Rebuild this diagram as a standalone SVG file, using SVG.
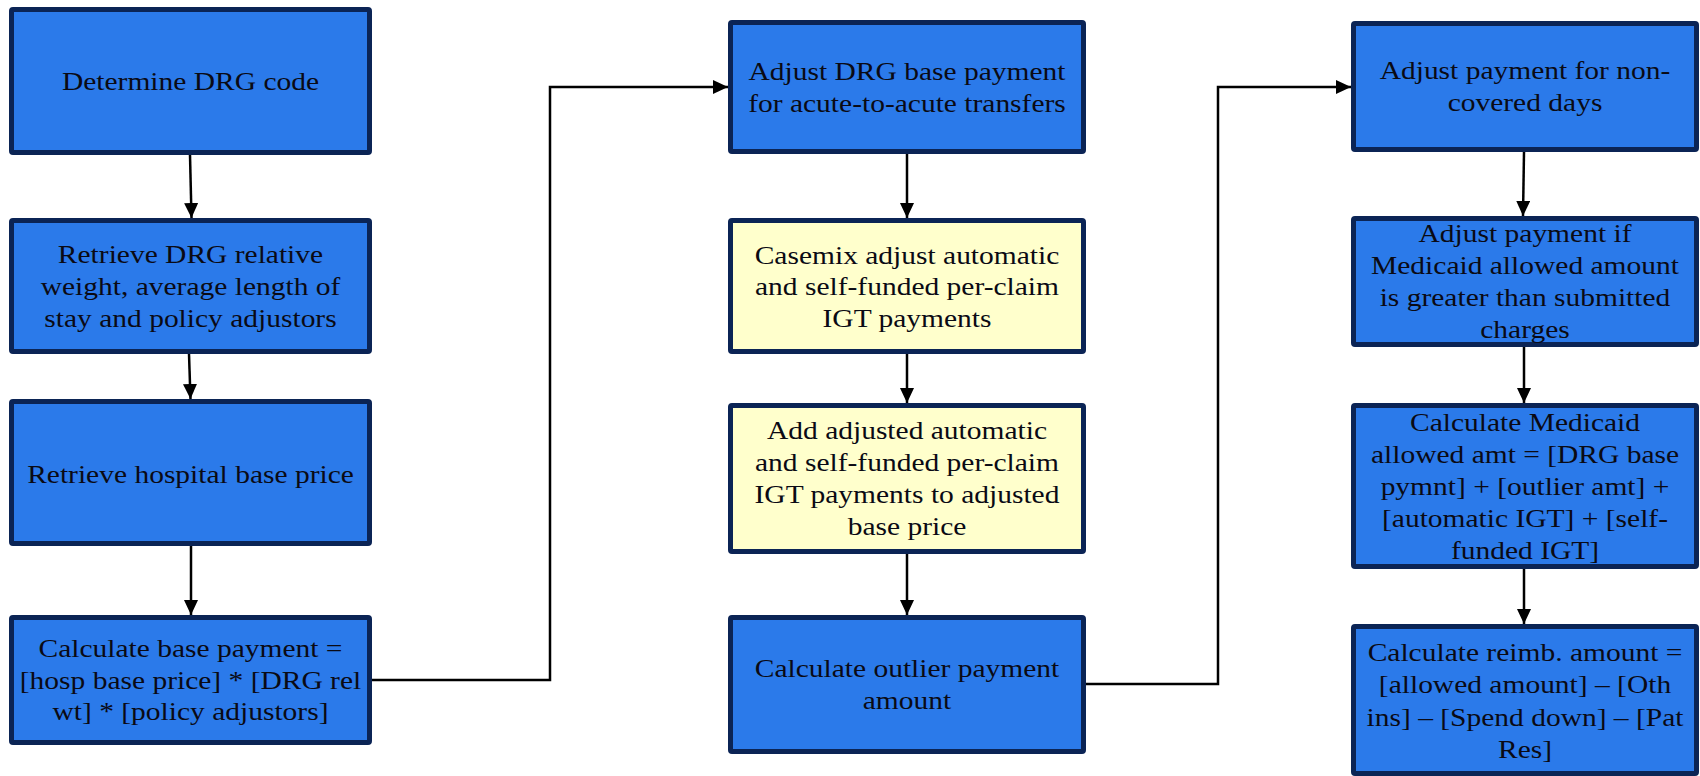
<svg xmlns="http://www.w3.org/2000/svg" width="1700" height="776" viewBox="0 0 1700 776">
<style>
.box{stroke:#0b2455;stroke-width:5;}
.blue{fill:#2b7aea;}
.yel{fill:#ffffcc;}
.t{font-family:"Liberation Serif","Times New Roman",serif;font-size:25px;fill:#0a0a14;text-anchor:middle;}
.c{fill:none;stroke:#000;stroke-width:2.5;}
</style>
<defs>
<marker id="ah" markerUnits="userSpaceOnUse" markerWidth="15" markerHeight="15" refX="15" refY="7" orient="auto">
<path d="M0,0 L15,7 L0,14 z" fill="#000"/>
</marker>
</defs>
<rect width="1700" height="776" fill="#fff"/>
<g id="connectors">
<path class="c" d="M190 155 L191.5 218" marker-end="url(#ah)"/>
<path class="c" d="M189 354 L190.5 399" marker-end="url(#ah)"/>
<path class="c" d="M191 546 L191 615" marker-end="url(#ah)"/>
<path class="c" d="M372 680 H550 V87 H728" marker-end="url(#ah)"/>
<path class="c" d="M907 154 V218" marker-end="url(#ah)"/>
<path class="c" d="M907 354 V403" marker-end="url(#ah)"/>
<path class="c" d="M907 554 V615" marker-end="url(#ah)"/>
<path class="c" d="M1086 684 H1218 V87 H1351" marker-end="url(#ah)"/>
<path class="c" d="M1524 152 L1523 216" marker-end="url(#ah)"/>
<path class="c" d="M1524 347 V403" marker-end="url(#ah)"/>
<path class="c" d="M1524 569 V624" marker-end="url(#ah)"/>
</g>
<g id="n1">
<rect class="box blue" x="11.5" y="9.5" width="358" height="143" rx="1.5"/>
<text class="t" transform="translate(190.5 0) scale(1.18 1)"><tspan x="0" y="90">Determine DRG code</tspan></text>
</g>
<g id="n2">
<rect class="box blue" x="11.5" y="220.5" width="358" height="131" rx="1.5"/>
<text class="t" transform="translate(190.5 0) scale(1.18 1)"><tspan x="0" y="263">Retrieve DRG relative</tspan><tspan x="0" y="295">weight, average length of</tspan><tspan x="0" y="327">stay and policy adjustors</tspan></text>
</g>
<g id="n3">
<rect class="box blue" x="11.5" y="401.5" width="358" height="142" rx="1.5"/>
<text class="t" transform="translate(190.5 0) scale(1.18 1)"><tspan x="0" y="483">Retrieve hospital base price</tspan></text>
</g>
<g id="n4">
<rect class="box blue" x="11.5" y="617.5" width="358" height="125" rx="1.5"/>
<text class="t" transform="translate(190.5 0) scale(1.18 1)"><tspan x="0" y="657">Calculate base payment =</tspan><tspan x="0" y="689">[hosp base price] * [DRG rel</tspan><tspan x="0" y="720">wt] * [policy adjustors]</tspan></text>
</g>
<g id="nA">
<rect class="box blue" x="730.5" y="22.5" width="353" height="129" rx="1.5"/>
<text class="t" transform="translate(907 0) scale(1.18 1)"><tspan x="0" y="80">Adjust DRG base payment</tspan><tspan x="0" y="112">for acute-to-acute transfers</tspan></text>
</g>
<g id="nB">
<rect class="box yel" x="730.5" y="220.5" width="353" height="131" rx="1.5"/>
<text class="t" transform="translate(907 0) scale(1.18 1)"><tspan x="0" y="264">Casemix adjust automatic</tspan><tspan x="0" y="295">and self-funded per-claim</tspan><tspan x="0" y="327">IGT payments</tspan></text>
</g>
<g id="nC">
<rect class="box yel" x="730.5" y="405.5" width="353" height="146" rx="1.5"/>
<text class="t" transform="translate(907 0) scale(1.18 1)"><tspan x="0" y="439">Add adjusted automatic</tspan><tspan x="0" y="471">and self-funded per-claim</tspan><tspan x="0" y="503">IGT payments to adjusted</tspan><tspan x="0" y="535">base price</tspan></text>
</g>
<g id="nD">
<rect class="box blue" x="730.5" y="617.5" width="353" height="134" rx="1.5"/>
<text class="t" transform="translate(907 0) scale(1.18 1)"><tspan x="0" y="677">Calculate outlier payment</tspan><tspan x="0" y="709">amount</tspan></text>
</g>
<g id="nE">
<rect class="box blue" x="1353.5" y="23.5" width="343" height="126" rx="1.5"/>
<text class="t" transform="translate(1525 0) scale(1.18 1)"><tspan x="0" y="79">Adjust payment for non-</tspan><tspan x="0" y="111">covered days</tspan></text>
</g>
<g id="nF">
<rect class="box blue" x="1353.5" y="218.5" width="343" height="126" rx="1.5"/>
<text class="t" transform="translate(1525 0) scale(1.18 1)"><tspan x="0" y="242">Adjust payment if</tspan><tspan x="0" y="274">Medicaid allowed amount</tspan><tspan x="0" y="306">is greater than submitted</tspan><tspan x="0" y="338">charges</tspan></text>
</g>
<g id="nG">
<rect class="box blue" x="1353.5" y="405.5" width="343" height="161" rx="1.5"/>
<text class="t" transform="translate(1525 0) scale(1.18 1)"><tspan x="0" y="431">Calculate Medicaid</tspan><tspan x="0" y="463">allowed amt = [DRG base</tspan><tspan x="0" y="495">pymnt] + [outlier amt] +</tspan><tspan x="0" y="527">[automatic IGT] + [self-</tspan><tspan x="0" y="559">funded IGT]</tspan></text>
</g>
<g id="nH">
<rect class="box blue" x="1353.5" y="626.5" width="343" height="147" rx="1.5"/>
<text class="t" transform="translate(1525 0) scale(1.18 1)"><tspan x="0" y="661">Calculate reimb. amount =</tspan><tspan x="0" y="693">[allowed amount] – [Oth</tspan><tspan x="0" y="726">ins] – [Spend down] – [Pat</tspan><tspan x="0" y="758">Res]</tspan></text>
</g>
</svg>
